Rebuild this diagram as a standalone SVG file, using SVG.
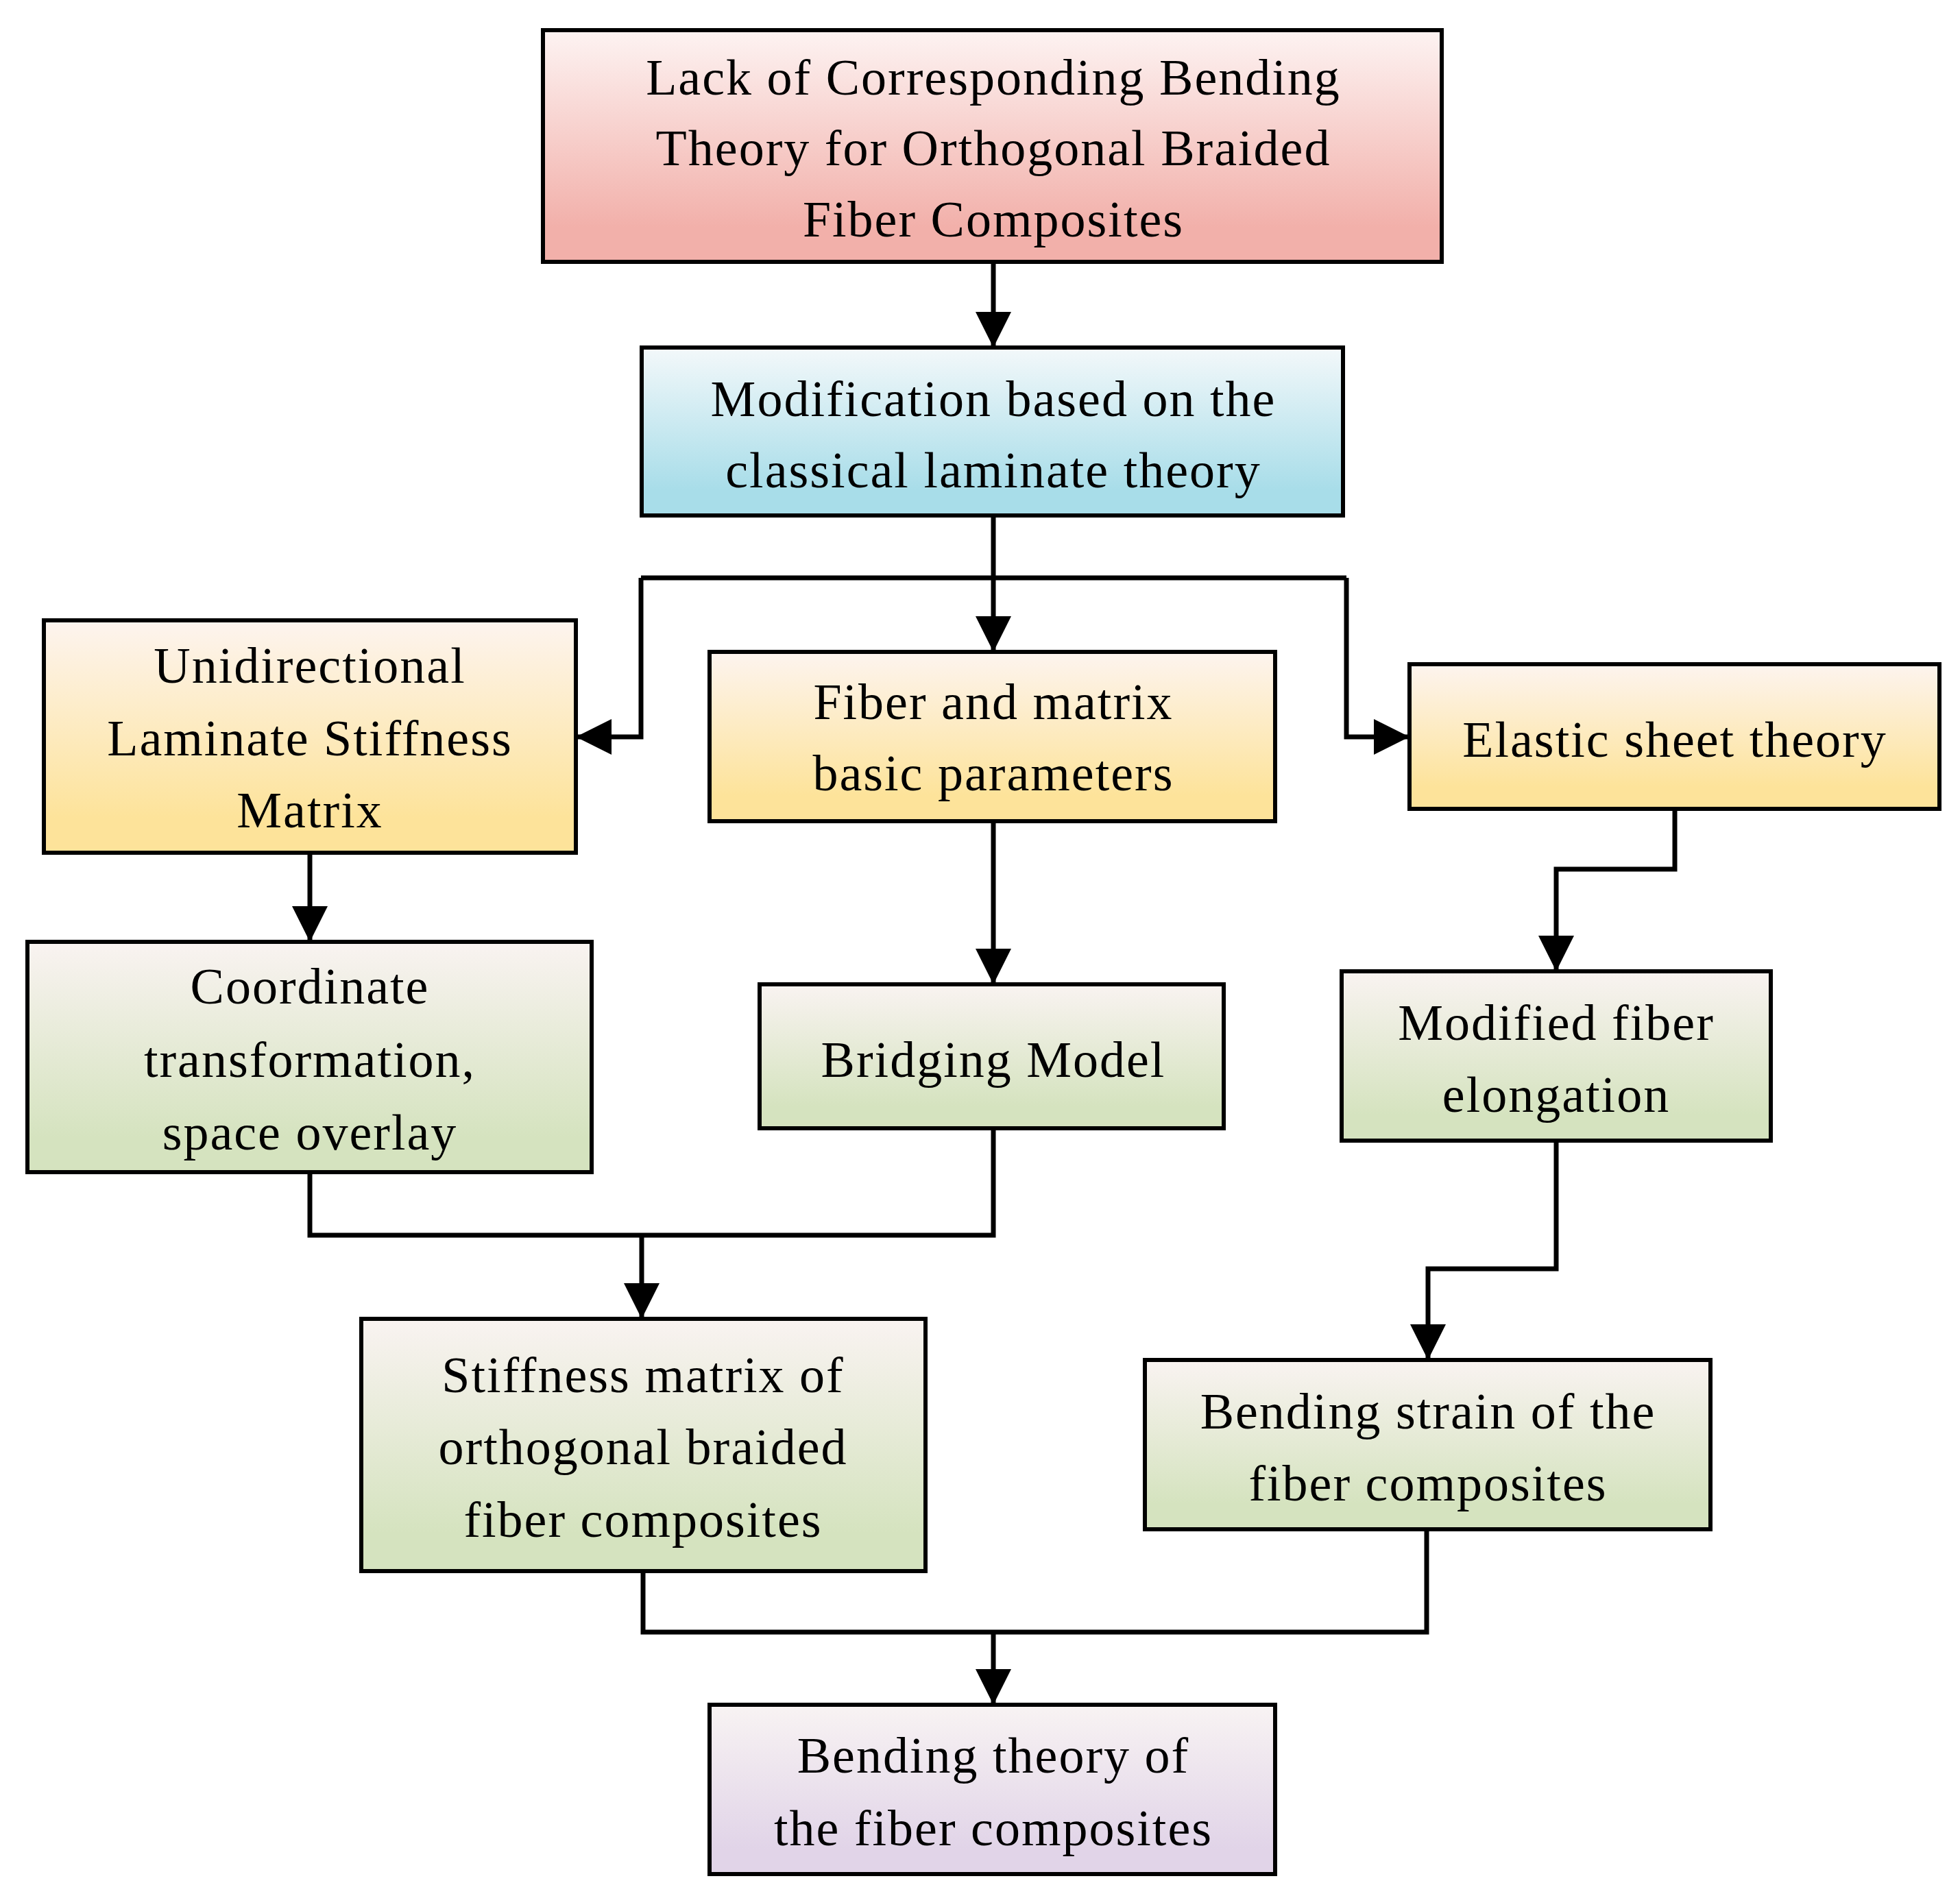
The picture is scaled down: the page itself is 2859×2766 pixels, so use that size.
<svg xmlns="http://www.w3.org/2000/svg" width="2859" height="2766" viewBox="0 0 2859 2766">
<defs>
<linearGradient id="gr" x1="0" y1="0" x2="0" y2="1"><stop offset="0" stop-color="#fdf3f2"/><stop offset="0.85" stop-color="#f2b0aa"/></linearGradient>
<linearGradient id="gb" x1="0" y1="0" x2="0" y2="1"><stop offset="0" stop-color="#f3f8fa"/><stop offset="0.85" stop-color="#a8dde9"/></linearGradient>
<linearGradient id="gy" x1="0" y1="0" x2="0" y2="1"><stop offset="0" stop-color="#fdf4ef"/><stop offset="0.85" stop-color="#fde39a"/></linearGradient>
<linearGradient id="gg" x1="0" y1="0" x2="0" y2="1"><stop offset="0" stop-color="#f9f3f1"/><stop offset="0.85" stop-color="#d5e3bf"/></linearGradient>
<linearGradient id="gp" x1="0" y1="0" x2="0" y2="1"><stop offset="0" stop-color="#f8f3f3"/><stop offset="0.85" stop-color="#e1d4e8"/></linearGradient>
<marker id="ah" markerUnits="userSpaceOnUse" markerWidth="60" markerHeight="60" viewBox="0 0 60 60" refX="56" refY="30" orient="auto"><path d="M4,4 L56,30 L4,56 Z" fill="#000"/></marker>
</defs>
<style>
.b{stroke:#000;stroke-width:6}
text{font-family:"Liberation Serif","Times New Roman",serif;font-size:74px;text-anchor:middle;dominant-baseline:central;fill:#000;letter-spacing:2px}
.c{fill:none;stroke:#000;stroke-width:7}
</style>
<g id="connectors">
<path class="c" d="M1449,382 V507" marker-end="url(#ah)"/>
<path class="c" d="M1449,752 V951" marker-end="url(#ah)"/>
<path class="c" d="M935,843 H1964"/>
<path class="c" d="M935,843 V1075 H840" marker-end="url(#ah)"/>
<path class="c" d="M1964,843 V1075 H2056" marker-end="url(#ah)"/>
<path class="c" d="M452,1244 V1374" marker-end="url(#ah)"/>
<path class="c" d="M1449,1198 V1436" marker-end="url(#ah)"/>
<path class="c" d="M2443,1180 V1268 H2270 V1417" marker-end="url(#ah)"/>
<path class="c" d="M452,1710 V1802 H1449 V1646"/>
<path class="c" d="M936,1802 V1924" marker-end="url(#ah)"/>
<path class="c" d="M2270,1664 V1851 H2083 V1984" marker-end="url(#ah)"/>
<path class="c" d="M938,2292 V2381 H2081 V2231"/>
<path class="c" d="M1449,2381 V2487" marker-end="url(#ah)"/>
</g>
<g id="n1"><rect class="b" x="792" y="44" width="1311" height="338" fill="url(#gr)"/>
<text x="1449" y="113">Lack of Corresponding Bending</text><text x="1449" y="216">Theory for Orthogonal Braided</text><text x="1449" y="320">Fiber Composites</text></g>
<g id="n2"><rect class="b" x="936" y="507" width="1023" height="245" fill="url(#gb)"/>
<text x="1449" y="582">Modification based on the</text><text x="1449" y="686">classical laminate theory</text></g>
<g id="n3"><rect class="b" x="64" y="905" width="776" height="339" fill="url(#gy)"/>
<text x="452" y="971">Unidirectional</text><text x="452" y="1077">Laminate Stiffness</text><text x="452" y="1182">Matrix</text></g>
<g id="n4"><rect class="b" x="1035" y="951" width="825" height="247" fill="url(#gy)"/>
<text x="1449" y="1024">Fiber and matrix</text><text x="1449" y="1128">basic parameters</text></g>
<g id="n5"><rect class="b" x="2056" y="969" width="773" height="211" fill="url(#gy)"/>
<text x="2443" y="1079">Elastic sheet theory</text></g>
<g id="n6"><rect class="b" x="40" y="1374" width="823" height="336" fill="url(#gg)"/>
<text x="452" y="1439">Coordinate</text><text x="452" y="1546">transformation,</text><text x="452" y="1652">space overlay</text></g>
<g id="n7"><rect class="b" x="1108" y="1436" width="677" height="210" fill="url(#gg)"/>
<text x="1449" y="1546">Bridging Model</text></g>
<g id="n8"><rect class="b" x="1957" y="1417" width="626" height="247" fill="url(#gg)"/>
<text x="2270" y="1492">Modified fiber</text><text x="2270" y="1597">elongation</text></g>
<g id="n9"><rect class="b" x="527" y="1924" width="823" height="368" fill="url(#gg)"/>
<text x="938" y="2006">Stiffness matrix of</text><text x="938" y="2111">orthogonal braided</text><text x="938" y="2217">fiber composites</text></g>
<g id="n10"><rect class="b" x="1670" y="1984" width="825" height="247" fill="url(#gg)"/>
<text x="2083" y="2059">Bending strain of the</text><text x="2083" y="2164">fiber composites</text></g>
<g id="n11"><rect class="b" x="1035" y="2487" width="825" height="247" fill="url(#gp)"/>
<text x="1449" y="2561">Bending theory of</text><text x="1449" y="2667">the fiber composites</text></g>
</svg>
